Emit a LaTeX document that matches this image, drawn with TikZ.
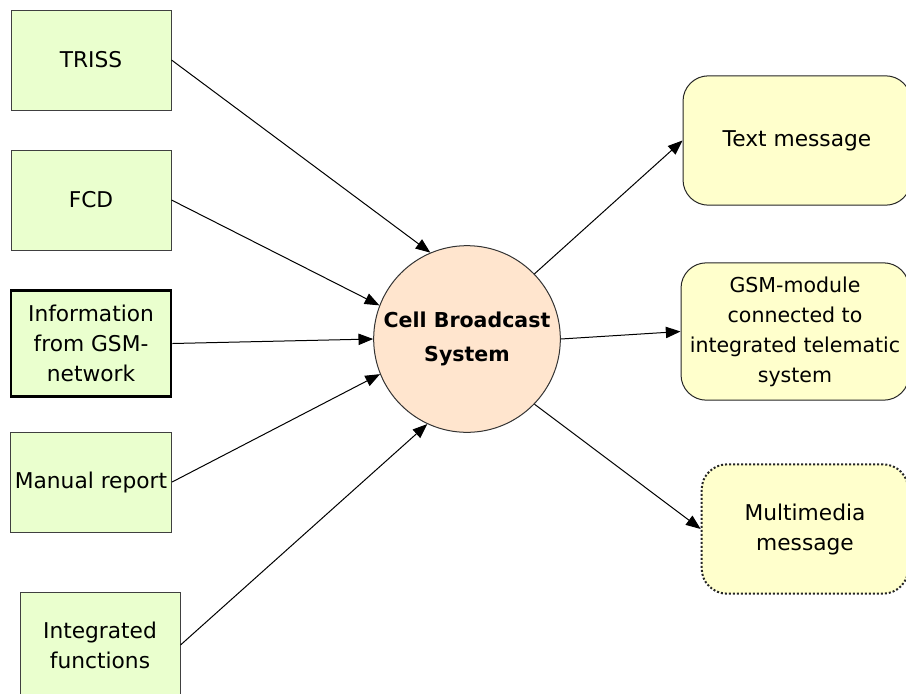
\documentclass[tikz,border=0pt]{standalone}
\usepackage{fontspec}
\setmainfont{DejaVu Sans}
\usetikzlibrary{arrows.meta}
\definecolor{vertclair}{RGB}{234,255,206}
\definecolor{jauneclair}{RGB}{255,255,204}
\definecolor{peche}{RGB}{255,229,206}
\begin{document}
\begin{tikzpicture}[x=0.75pt, y=-0.75pt, line width=0.75pt]
\tikzstyle{entree} = [rectangle, draw=black!75, fill=vertclair, minimum width=120pt, minimum height=75pt, align=center, font=\fontsize{16.3}{22.5}\selectfont]
\tikzstyle{sortie} = [rectangle, rounded corners=19pt, draw=black!85, fill=jauneclair, minimum width=171pt, align=center, font=\fontsize{16.3}{22.5}\selectfont]
\tikzstyle{centre} = [circle, draw=black!80, fill=peche, minimum size=140pt, inner sep=0pt, align=center, font=\bfseries\fontsize{15.4}{25.5}\selectfont]
\tikzstyle{fleche} = [-{Triangle[length=11pt, width=8.5pt]}]
\useasboundingbox (0,0) rectangle (906,693);
\clip (0,0) rectangle (906,693);
% sources
\node[entree] (triss) at (91,60) {TRISS};
\node[entree] (fcd) at (91,200) {FCD};
\node[entree, draw=black, line width=2.2pt, minimum height=79pt] (gsm) at (91,343.5) {Information\\from GSM-\\network};
\node[entree] (manuel) at (91,482) {Manual report};
\node[entree, minimum height=79pt] (integre) at (100,645) {Integrated\\functions};
% centre
\node[centre] (cbs) at (467,339) {Cell Broadcast\\System};
% sorties
\node[sortie, minimum height=97pt] (texte) at (797,140.5) {Text message};
\node[sortie, minimum height=103pt, inner sep=1pt, font=\fontsize{15.4}{22.5}\selectfont] (module) at (795,331.5) {GSM-module\\connected to\\integrated telematic\\system};
\node[sortie, minimum height=97pt, minimum width=155pt, line width=1.5pt, dash pattern=on 1.5pt off 1.5pt] (multi) at (805,529) {Multimedia\\message};
% fleches
\draw[fleche] (triss.east) -- (cbs.113);
\draw[fleche] (fcd.east) -- (cbs.159);
\draw[fleche] (gsm.east) -- (cbs.180);
\draw[fleche] (manuel.east) -- (cbs.202);
\draw[fleche] (integre.east) -- (cbs.245);
\draw[fleche] (cbs.44) -- (texte.west);
\draw[fleche] (cbs.0) -- (module.west);
\draw[fleche] (cbs.-44) -- (multi.west);
\end{tikzpicture}
\end{document}
